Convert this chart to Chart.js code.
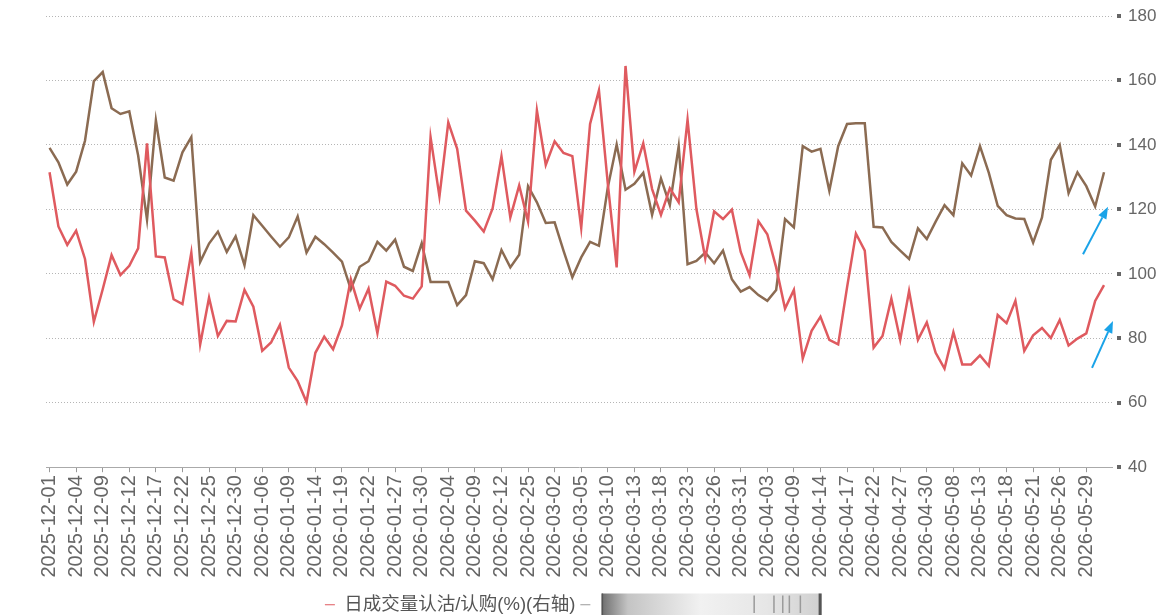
<!DOCTYPE html>
<html lang="zh-CN">
<head>
<meta charset="utf-8">
<title>日成交量认沽/认购</title>
<script src="https://cdn.jsdelivr.net/npm/chart.js@4/dist/chart.umd.min.js"></script>
<style>
  html, body { margin: 0; padding: 0; background: #fff; }
  #cadre { width: 1165px; height: 615px; position: relative; }
</style>
</head>
<body>
<div id="cadre"><canvas id="graphique"></canvas></div>
<script>
/* Ratio认沽/认购 — courbe journalière, axe de droite */

const dates = [
    '2025-12-01','2025-12-02','2025-12-03','2025-12-04','2025-12-05','2025-12-08','2025-12-09','2025-12-10',
    '2025-12-11','2025-12-12','2025-12-15','2025-12-16','2025-12-17','2025-12-18','2025-12-19','2025-12-22',
    '2025-12-23','2025-12-24','2025-12-25','2025-12-26','2025-12-29','2025-12-30','2025-12-31','2026-01-05',
    '2026-01-06','2026-01-07','2026-01-08','2026-01-09','2026-01-12','2026-01-13','2026-01-14','2026-01-15',
    '2026-01-16','2026-01-19','2026-01-20','2026-01-21','2026-01-22','2026-01-23','2026-01-26','2026-01-27',
    '2026-01-28','2026-01-29','2026-01-30','2026-02-02','2026-02-03','2026-02-04','2026-02-05','2026-02-06',
    '2026-02-09','2026-02-10','2026-02-11','2026-02-12','2026-02-13','2026-02-24','2026-02-25','2026-02-26',
    '2026-02-27','2026-03-02','2026-03-03','2026-03-04','2026-03-05','2026-03-06','2026-03-09','2026-03-10',
    '2026-03-11','2026-03-12','2026-03-13','2026-03-16','2026-03-17','2026-03-18','2026-03-19','2026-03-20',
    '2026-03-23','2026-03-24','2026-03-25','2026-03-26','2026-03-27','2026-03-30','2026-03-31','2026-04-01',
    '2026-04-02','2026-04-03','2026-04-07','2026-04-08','2026-04-09','2026-04-10','2026-04-13','2026-04-14',
    '2026-04-15','2026-04-16','2026-04-17','2026-04-20','2026-04-21','2026-04-22','2026-04-23','2026-04-24',
    '2026-04-27','2026-04-28','2026-04-29','2026-04-30','2026-05-06','2026-05-07','2026-05-08','2026-05-11',
    '2026-05-12','2026-05-13','2026-05-14','2026-05-15','2026-05-18','2026-05-19','2026-05-20','2026-05-21',
    '2026-05-22','2026-05-25','2026-05-26','2026-05-27','2026-05-28','2026-05-29','2026-06-01','2026-06-02'
];

// 日成交量认沽/认购(%)(右轴)
const ratioRouge = [
    131.5, 114.7, 109.0, 113.4, 104.6, 85.1, 95.2, 105.8, 99.6, 102.5,
    107.9, 140.5, 105.4, 105.1, 92.1, 90.6, 106.6, 78.1, 92.6, 80.7,
    85.4, 85.2, 95.0, 89.8, 76.1, 78.7, 84.2, 70.9, 66.7, 60.2,
    75.5, 80.5, 76.6, 84.0, 98.3, 89.2, 95.4, 81.6, 97.6, 96.3,
    93.2, 92.3, 96.1, 142.4, 124.0, 147.0, 138.8, 119.6, 116.5, 113.1,
    120.3, 136.5, 117.5, 127.4, 116.2, 150.7, 133.8, 141.1, 137.5, 136.5,
    114.2, 146.5, 156.9, 128.0, 102.0, 164.5, 131.7, 140.5, 126.3, 118.3,
    126.5, 122.2, 147.8, 120.1, 104.8, 119.4, 117.0, 119.9, 106.8, 99.6,
    116.3, 112.3, 102.0, 89.2, 95.0, 73.7, 82.3, 86.7, 79.5, 78.1,
    95.8, 112.5, 107.2, 77.1, 80.7, 92.3, 79.5, 94.7, 79.5, 84.9,
    75.5, 70.6, 81.9, 71.9, 71.9, 74.7, 71.4, 87.2, 84.7, 91.6,
    76.1, 80.9, 83.2, 80.1, 85.7, 77.8, 79.9, 81.5, 91.6, 96.5
];

// seconde série (libellé masqué dans l'original)
const serieBrune = [
    139.1, 134.6, 127.7, 131.7, 141.3, 159.8, 162.6, 151.4, 149.6, 150.4,
    136.7, 116.8, 147.6, 129.9, 128.9, 137.7, 142.4, 103.7, 109.4, 113.1,
    106.8, 111.6, 102.7, 118.2, 114.9, 111.6, 108.4, 111.3, 117.8, 106.6,
    111.5, 109.2, 106.6, 103.8, 95.2, 102.2, 103.9, 109.9, 107.2, 110.6,
    102.2, 100.9, 109.5, 97.5, 97.5, 97.5, 90.3, 93.4, 103.9, 103.3,
    98.3, 107.4, 102.0, 105.9, 127.2, 122.2, 115.8, 116.0, 107.2, 98.9,
    105.1, 109.9, 108.7, 126.8, 140.1, 126.1, 127.9, 131.3, 118.3, 129.6,
    121.3, 139.6, 103.0, 104.0, 106.6, 103.3, 107.2, 98.3, 94.5, 95.9,
    93.4, 91.6, 95.0, 117.0, 114.4, 139.6, 137.9, 138.8, 125.8, 139.6,
    146.5, 146.7, 146.7, 114.6, 114.4, 109.9, 107.2, 104.6, 114.1, 110.8,
    116.2, 121.3, 118.2, 134.3, 130.5, 139.6, 131.3, 121.1, 118.2, 117.2,
    117.0, 109.7, 117.5, 135.4, 140.0, 125.0, 131.5, 127.2, 120.9, 131.5
];

const graduationsY = [40, 60, 80, 100, 120, 140, 160, 180];
const pasDates = 3;   // une date affichée sur trois

const ROUGE = '#df5a5f';
const BRUN  = '#8b6b52';
const POLICE = '"Liberation Sans", Arial, "Noto Sans CJK SC", sans-serif';
const TAILLE_LEGENDE = 18.5;

// flèches bleues près des derniers points (décalage px, valeur)
const fleches = [
    { de: [-21, 106.1], a: [4, 120.8] },
    { de: [-12, 70.8],  a: [9, 85.4] }
];

const versPoints = serie => serie.map((v, i) => ({ x: i, y: v }));

const decorations = {
    id: 'decorations',
    afterDraw(chart) {
        const { ctx, chartArea, scales: { x, y } } = chart;
        ctx.save();

        // petits carrés devant les libellés de l'axe droit
        ctx.fillStyle = '#666';
        y.ticks.forEach(t => {
            const py = Math.round(y.getPixelForValue(t.value));
            ctx.fillRect(chartArea.right + 5, py - 2, 4, 4);
        });

        // flèches
        const xFin = x.getPixelForValue(dates.length - 1);
        ctx.strokeStyle = '#1aa3e8';
        ctx.fillStyle = '#1aa3e8';
        ctx.lineWidth = 2;
        fleches.forEach(f => {
            const x0 = xFin + f.de[0], y0 = y.getPixelForValue(f.de[1]);
            const x1 = xFin + f.a[0],  y1 = y.getPixelForValue(f.a[1]);
            const ang = Math.atan2(y1 - y0, x1 - x0);
            const lg = 12, lr = 4.5;
            const bx = x1 - lg * Math.cos(ang), by = y1 - lg * Math.sin(ang);
            ctx.beginPath();
            ctx.moveTo(x0, y0);
            ctx.lineTo(bx, by);
            ctx.stroke();
            ctx.beginPath();
            ctx.moveTo(x1, y1);
            ctx.lineTo(bx + lr * Math.sin(ang), by - lr * Math.cos(ang));
            ctx.lineTo(bx - lr * Math.sin(ang), by + lr * Math.cos(ang));
            ctx.closePath();
            ctx.fill();
        });

        // libellé masqué de la seconde série
        const boite = chart.legend.legendHitBoxes[1];
        if (boite) {
            const x0 = boite.left + 10 + TAILLE_LEGENDE / 2 + 2;
            const w = 220;
            const y0 = boite.top - 2, h = boite.height + 3;
            const grad = ctx.createLinearGradient(x0, 0, x0 + w, 0);
            grad.addColorStop(0, '#6e6e6e');
            grad.addColorStop(0.12, '#c4c4c4');
            grad.addColorStop(0.45, '#f1f1f1');
            grad.addColorStop(0.75, '#e6e6e6');
            grad.addColorStop(1, '#cfcfcf');
            ctx.fillStyle = grad;
            ctx.fillRect(x0, y0, w, h);
            ctx.fillStyle = '#555';
            ctx.fillRect(x0, y0, 1.5, h);
            ctx.fillRect(x0 + w - 3, y0, 3, h);
            ctx.fillStyle = '#9a9a9a';
            [0.69, 0.78, 0.82, 0.85, 0.9].forEach(p => ctx.fillRect(x0 + w * p, y0 + 2, 1.5, h - 4));
        }
        ctx.restore();
    }
};

document.addEventListener('DOMContentLoaded', function () {

    const ctx = document.getElementById('graphique');
    if (!ctx) return;

    new Chart(ctx.getContext('2d'), {
        type: 'line',
        data: {
            datasets: [{
                label: '日成交量认沽/认购(%)(右轴)',
                data: versPoints(ratioRouge),
                borderColor: ROUGE,
                backgroundColor: ROUGE,
                borderWidth: 2.5,
                pointRadius: 0,
                tension: 0,
                yAxisID: 'y'
            }, {
                label: '\u3000'.repeat(15),
                data: versPoints(serieBrune),
                borderColor: BRUN,
                backgroundColor: BRUN,
                borderWidth: 2.5,
                pointRadius: 0,
                tension: 0,
                yAxisID: 'y'
            }]
        },
        options: {
            responsive: true,
            maintainAspectRatio: false,
            animation: false,
            layout: { padding: { top: 16, right: 9, bottom: -9, left: 46 } },
            plugins: {
                tooltip: { enabled: false },
                legend: {
                    position: 'bottom',
                    title: { display: true, text: ' ', padding: 1, font: { size: 8, lineHeight: 1 } },
                    labels: {
                        usePointStyle: true,
                        pointStyle: 'line',
                        pointStyleWidth: 10,
                        padding: 5,
                        color: '#555',
                        font: { family: POLICE, size: TAILLE_LEGENDE },
                        generateLabels(chart) {
                            const items = Chart.defaults.plugins.legend.labels.generateLabels(chart);
                            items.forEach(it => { it.lineWidth = 1.2; });
                            items[1].strokeStyle = '#9a9a9a';
                            return items;
                        }
                    }
                }
            },
            scales: {
                x: {
                    type: 'linear',
                    min: -0.4,
                    max: dates.length - 0.1,
                    afterBuildTicks(axe) {
                        axe.ticks = dates.map((d, i) => i).filter(i => i % pasDates === 0).map(v => ({ value: v }));
                    },
                    afterFit(axe) {
                        axe.paddingLeft = 0;
                        axe.paddingRight = 0;
                    },
                    ticks: {
                        autoSkip: false,
                        maxRotation: 90,
                        minRotation: 90,
                        padding: 3,
                        color: '#666',
                        font: { family: POLICE, size: 20 },
                        callback: v => dates[v]
                    },
                    grid: { drawOnChartArea: false, drawTicks: true, tickLength: 5, color: '#999' },
                    border: { display: true, color: '#aaa' }
                },
                y: {
                    position: 'right',
                    min: 40,
                    max: 180,
                    afterBuildTicks(axe) {
                        axe.ticks = graduationsY.map(v => ({ value: v }));
                    },
                    afterFit(axe) {
                        axe.width = 44;
                        axe.paddingTop = 0;
                        axe.paddingBottom = 0;
                    },
                    ticks: {
                        padding: 16,
                        color: '#666',
                        font: { family: POLICE, size: 17 }
                    },
                    grid: { drawTicks: false, color: '#b5b5b5' },
                    border: { display: false, dash: [1, 2] }
                }
            }
        },
        plugins: [decorations]
    });
});
</script>
</body>
</html>
